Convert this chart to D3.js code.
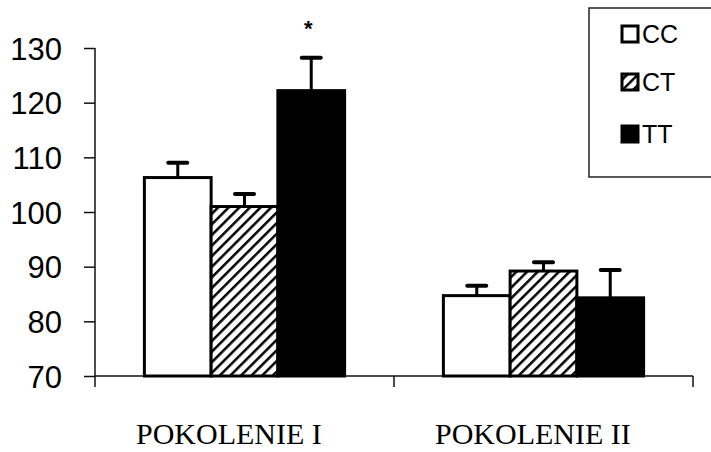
<!DOCTYPE html>
<html>
<head>
<meta charset="utf-8">
<script src="https://cdn.jsdelivr.net/npm/d3@7"></script>
<style>
  body { margin: 0; background: #fff; }
  svg { display: block; }
</style>
</head>
<body>
<div id="chart"></div>
<script>
// chart data
var groups = ["POKOLENIE I", "POKOLENIE II"];
var series = ["CC", "CT", "TT"];
var means = [[106.3, 101.0, 122.2], [84.7, 89.2, 84.3]];
var errors = [[2.7, 2.3, 6.0], [1.8, 1.6, 5.1]];
var yTicks = [70, 80, 90, 100, 110, 120, 130];
var starred = [[false, false, true], [false, false, false]];

var W = 711, H = 452;
var svg = d3.select("#chart").append("svg").attr("width", W).attr("height", H);

var defs = svg.append("defs");
var pat = defs.append("pattern").attr("id", "hatch")
  .attr("patternUnits", "userSpaceOnUse")
  .attr("width", 7.5).attr("height", 7.5)
  .attr("patternTransform", "rotate(45)");
pat.append("rect").attr("width", 7.5).attr("height", 7.5).attr("fill", "#fff");
pat.append("line").attr("x1", 0).attr("y1", 0).attr("x2", 0).attr("y2", 7.5)
  .attr("stroke", "#000").attr("stroke-width", 5);

var fills = { CC: "#fff", CT: "url(#hatch)", TT: "#000" };

var y = d3.scaleLinear().domain([70, 130]).range([376, 48]);
var x = d3.scaleBand().domain(groups).range([95, 693]).paddingInner(0).paddingOuter(0);
var xs = d3.scaleBand().domain(series).range([0, x.bandwidth()]).paddingInner(0).paddingOuter(0.74);

// y axis
var yAxis = svg.append("g").attr("transform", "translate(95,0)")
  .call(d3.axisLeft(y).tickValues(yTicks).tickSize(11).tickSizeOuter(0).tickPadding(22));
yAxis.select(".domain").attr("stroke", "#111").attr("stroke-width", 1.5)
  .attr("d", "M0," + y(130) + "V387");
yAxis.selectAll(".tick line").attr("stroke", "#111").attr("stroke-width", 1.5);
yAxis.selectAll(".tick text")
  .attr("font-family", "Arial, 'Liberation Sans', sans-serif")
  .attr("font-size", 31).attr("fill", "#000").attr("dy", "0.36em");

// x axis line + boundary ticks
svg.append("line").attr("x1", 95).attr("x2", 693).attr("y1", 376).attr("y2", 376)
  .attr("stroke", "#111").attr("stroke-width", 1.5);
var bounds = groups.map(function(g) { return x(g); }).concat([x(groups[groups.length - 1]) + x.bandwidth()]);
svg.selectAll(".xb").data(bounds.slice(1)).enter().append("line")
  .attr("x1", function(d) { return d; }).attr("x2", function(d) { return d; })
  .attr("y1", 376).attr("y2", 387).attr("stroke", "#111").attr("stroke-width", 1.5);

// bars
groups.forEach(function(g, gi) {
  var gg = svg.append("g").attr("transform", "translate(" + x(g) + ",0)");
  series.forEach(function(s, si) {
    var v = means[gi][si], e = errors[gi][si];
    var cx = xs(s) + xs.bandwidth() / 2;
    // error bar
    gg.append("line").attr("x1", cx).attr("x2", cx)
      .attr("y1", y(v)).attr("y2", y(v + e))
      .attr("stroke", "#000").attr("stroke-width", 3);
    gg.append("line").attr("x1", cx - 9.5).attr("x2", cx + 9.5)
      .attr("y1", y(v + e)).attr("y2", y(v + e))
      .attr("stroke", "#000").attr("stroke-width", 4).attr("stroke-linecap", "round");
    gg.append("rect")
      .attr("x", xs(s)).attr("y", y(v))
      .attr("width", xs.bandwidth()).attr("height", y(70) - y(v))
      .attr("fill", fills[s]).attr("stroke", "#000").attr("stroke-width", 3);
    if (starred[gi][si]) {
      gg.append("text").attr("x", cx - 3).attr("y", y(v + e) - 22)
        .attr("text-anchor", "middle")
        .attr("font-family", "Arial, 'Liberation Sans', sans-serif")
        .attr("font-weight", "bold").attr("font-size", 22).text("*");
    }
  });
  // category label
  svg.append("text").attr("x", x(g) + 41).attr("y", 444)
    .attr("font-family", "'Liberation Serif', 'Times New Roman', serif")
    .attr("font-size", 30).attr("fill", "#000").text(g);
});

// legend
var leg = svg.append("g");
leg.append("rect").attr("x", 589).attr("y", 8).attr("width", 140).attr("height", 169)
  .attr("fill", "#fff").attr("stroke", "#222").attr("stroke-width", 1.5);
var legY = [34, 82, 134];
series.forEach(function(s, i) {
  leg.append("rect").attr("x", 622).attr("y", legY[i] - 8).attr("width", 16).attr("height", 16)
    .attr("fill", fills[s]).attr("stroke", "#000").attr("stroke-width", 3);
  leg.append("text").attr("x", 642).attr("y", legY[i] + 9)
    .attr("font-family", "Arial, 'Liberation Sans', sans-serif")
    .attr("font-size", 25).attr("fill", "#000").text(s);
});
</script>
</body>
</html>
